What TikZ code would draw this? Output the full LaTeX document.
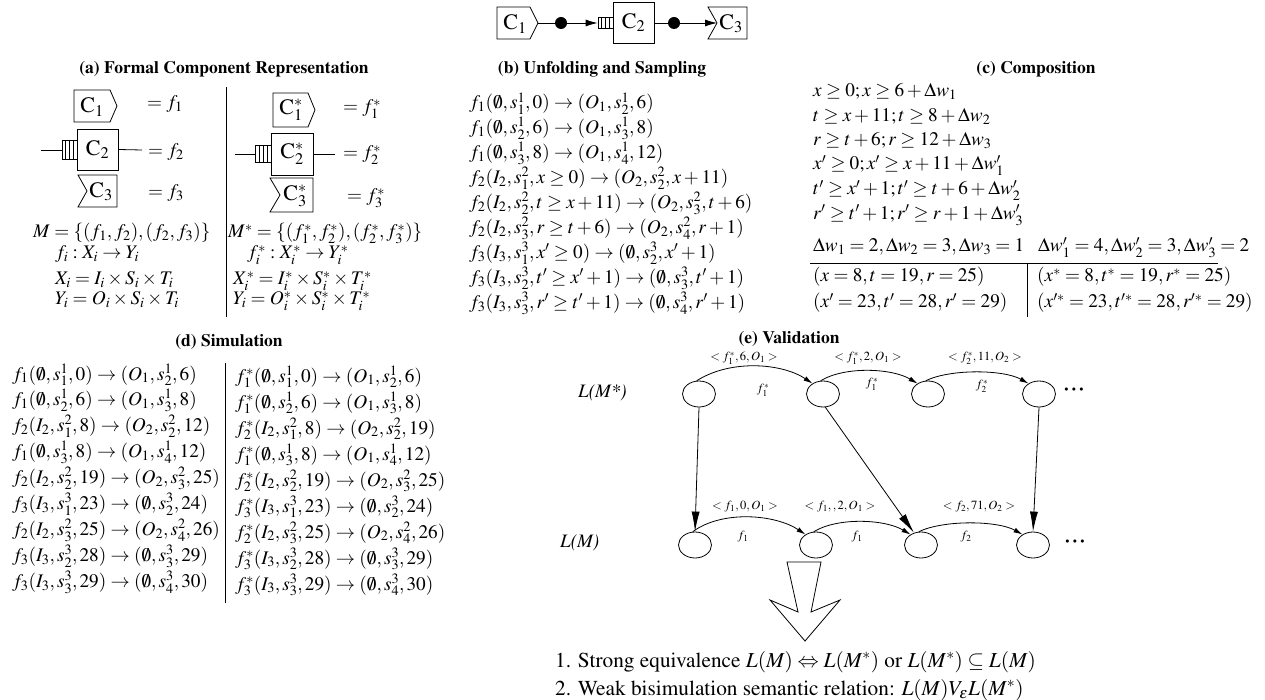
\documentclass[tikz,border=0pt]{standalone}
\usepackage[T1]{fontenc}
\usepackage{mathptmx}
\usetikzlibrary{arrows.meta,shapes.geometric,calc}
\newcommand{\mainfs}{\fontsize{19.25}{23}\selectfont}
\newcommand{\ttlfs}{\fontsize{17.5}{21}\selectfont}
\newcommand{\smallfs}{\fontsize{12.5}{14}\selectfont}
\newcommand{\clabfs}{\fontsize{22}{24}\selectfont}
\newcommand{\concfs}{\fontsize{21.3}{26}\selectfont}
\newcommand{\etc}{\textbullet\kern3.3pt\textbullet\kern3.3pt\textbullet}
\tikzset{
  ln/.style={line width=0.8pt},
  comp/.style={draw, line width=0.8pt, line join=miter},
  cbox/.style={draw, line width=0.8pt, minimum width=41pt, minimum height=41pt, inner sep=0pt, font=\clabfs},
  clab/.style={inner sep=0pt, font=\clabfs},
  blob/.style={circle, fill, inner sep=0pt, minimum size=12pt},
  queue/.style={draw, line width=0.8pt, inner sep=0pt, path picture={
      \foreach \f in {0.25,0.5,0.75}
        \draw[line width=0.8pt] ($(path picture bounding box.north west)!\f!(path picture bounding box.north east)$) -- ($(path picture bounding box.south west)!\f!(path picture bounding box.south east)$);
    }},
  mtxt/.style={anchor=base west, inner sep=0pt, font=\mainfs},
  ttl/.style={anchor=base, inner sep=0pt, font=\ttlfs\bfseries},
  st/.style={ellipse, draw, line width=0.8pt, minimum width=33pt, minimum height=26pt, inner sep=0pt},
  lbl/.style={inner sep=0pt, font=\smallfs},
  dotsl/.style={inner sep=0pt, font=\fontsize{12}{12}\selectfont},
  runlbl/.style={anchor=west, inner sep=0pt, font=\fontsize{19}{21}\selectfont\itshape},
  arcarrow/.style={line width=0.8pt, -{Latex[length=9pt,width=5pt]}},
  midarrow/.style={line width=0.8pt, -{Latex[length=12pt,width=7pt]}},
  bigarrow/.style={line width=0.8pt, -{Latex[length=20pt,width=8pt]}},
  rule/.style={line width=0.8pt},
}
\begin{document}
\begin{tikzpicture}[x=1pt,y=-1pt]
\useasboundingbox (0,0) rectangle (1265,700);

% ---------- pipeline C1 -> C2 -> C3 ----------
\draw[comp] (497,7) -- (530,7) -- (538,23) -- (530,39) -- (497,39) -- cycle;
\node[clab] (tc1) at (515,24) {C$_1$};
\coordinate (tc1out) at (538,23);
\node[blob] (td1) at (561,23) {};
\node[queue, minimum width=15pt, minimum height=11pt] (tq) at (605.5,23) {};
\node[cbox] (tc2) at (633.5,22.5) {C$_2$};
\node[blob] (td2) at (674,23) {};
\draw[comp] (708,7) -- (747,7) -- (747,39) -- (708,39) -- (717,23) -- cycle;
\coordinate (tc3in) at (717,23);
\node[clab] (tc3) at (731,24) {C$_3$};
\draw[ln] (tc1out) -- (td1);
\draw[midarrow] (td1) -- (tq.west);
\draw[ln] (tc2.east |- td2) -- (td2);
\draw[midarrow] (td2) -- (tc3in);

% ---------- (a) ----------
\node[ttl] (ta) at (224,74) {(a) Formal Component Representation};
\draw[rule] (226,87) -- (226,317);
% left column
\draw[comp] (74,90) -- (110,90) -- (117,106) -- (110,122) -- (74,122) -- cycle;
\node[clab] (ac1) at (92,107) {C$_1$};
\node[mtxt] (af1) at (147,109) {$= f_1$};
\coordinate (ain2) at (41,150);
\node[queue, minimum width=15pt, minimum height=19pt] (aq2) at (69.5,150) {};
\node[cbox] (ac2) at (97.5,149.5) {C$_2$};
\coordinate (aout2) at (142,150);
\draw[ln] (ain2) -- (aq2.west);
\draw[ln] (ac2.east) -- (aout2);
\node[mtxt] (af2) at (148,157) {$= f_2$};
\draw[comp] (78,175) -- (117,175) -- (117,207) -- (78,207) -- (87,191) -- cycle;
\node[clab] (ac3) at (101,192) {C$_3$};
\node[mtxt] (af3) at (148,198) {$= f_3$};
\node[mtxt] (am) at (33,238) {$M = \{(f_1,f_2),(f_2,f_3)\}$};
\node[mtxt] (amap) at (55,259) {$f_i : X_i \rightarrow Y_i$};
\node[mtxt] (ax) at (55,285) {$X_i = I_i \times S_i \times T_i$};
\node[mtxt] (ay) at (55,305) {$Y_i = O_i \times S_i \times T_i$};
% right column
\draw[comp] (273,93) -- (308,93) -- (315,110) -- (308,127) -- (273,127) -- cycle;
\node[clab] (asc1) at (291,110) {C$_1^*$};
\node[mtxt] (asf1) at (343,113) {$= f_1^*$};
\coordinate (asin2) at (235,154);
\node[queue, minimum width=16pt, minimum height=17pt] (asq2) at (263,154) {};
\node[cbox, minimum width=42pt, minimum height=42pt] (asc2) at (292,154) {C$_2^*$};
\coordinate (asout2) at (335,154);
\draw[ln] (asin2) -- (asq2.west);
\draw[ln] (asc2.east) -- (asout2);
\node[mtxt] (asf2) at (343,159) {$= f_2^*$};
\draw[comp] (270,178) -- (313,178) -- (313,212) -- (270,212) -- (280,195) -- cycle;
\node[clab] (asc3) at (295,196) {C$_3^*$};
\node[mtxt] (asf3) at (347,202) {$= f_3^*$};
\node[mtxt] (asm) at (228,238) {$M^* = \{(f_1^*,f_2^*),(f_2^*,f_3^*)\}$};
\node[mtxt] (asmap) at (247,259) {$f_i^* : X_i^* \rightarrow Y_i^*$};
\node[mtxt] (asx) at (233,285) {$X_i^* = I_i^* \times S_i^* \times T_i^*$};
\node[mtxt] (asy) at (233,305) {$Y_i = O_i^* \times S_i^* \times T_i^*$};

% ---------- (b) ----------
\node[ttl] (tb) at (602,74) {(b) Unfolding and Sampling};
\foreach \r [count=\i from 0] in {
  {$f_1(\emptyset,s^1_1,0)\rightarrow(O_1,s^1_2,6)$},
  {$f_1(\emptyset,s^1_2,6)\rightarrow(O_1,s^1_3,8)$},
  {$f_1(\emptyset,s^1_3,8)\rightarrow(O_1,s^1_4,12)$},
  {$f_2(I_2,s^2_1,x\geq 0)\rightarrow(O_2,s^2_2,x+11)$},
  {$f_2(I_2,s^2_2,t\geq x+11)\rightarrow(O_2,s^2_3,t+6)$},
  {$f_2(I_2,s^2_3,r\geq t+6)\rightarrow(O_2,s^2_4,r+1)$},
  {$f_3(I_3,s^3_1,x'\geq 0)\rightarrow(\emptyset,s^3_2,x'+1)$},
  {$f_3(I_3,s^3_2,t'\geq x'+1)\rightarrow(\emptyset,s^3_3,t'+1)$},
  {$f_3(I_3,s^3_3,r'\geq t'+1)\rightarrow(\emptyset,s^3_4,r'+1)$}}
  \node[mtxt] (b\i) at (469,{109+24.9*\i}) {\r};

% ---------- (c) ----------
\node[ttl] (tcc) at (1036,74) {(c) Composition};
\node[mtxt] (c1) at (813,97) {$x\geq 0; x\geq 6+\Delta w_1$};
\node[mtxt] (c2) at (813,121.5) {$t\geq x+11; t\geq 8+\Delta w_2$};
\node[mtxt] (c3) at (813,146) {$r\geq t+6; r\geq 12+\Delta w_3$};
\node[mtxt] (c4) at (813,170) {$x'\geq 0; x'\geq x+11+\Delta w'_1$};
\node[mtxt] (c5) at (813,195) {$t'\geq x'+1; t'\geq t+6+\Delta w'_2$};
\node[mtxt] (c6) at (813,219.5) {$r'\geq t'+1; r'\geq r+1+\Delta w'_3$};
\node[mtxt] (c7a) at (813,252) {$\Delta w_1=2,\Delta w_2=3,\Delta w_3=1$};
\node[mtxt] (c7b) at (1038,252) {$\Delta w'_1=4,\Delta w'_2=3,\Delta w'_3=2$};
\draw[rule] (810,263) -- (1218,263);
\draw[rule] (1027,263) -- (1027,317);
\node[mtxt] (c8a) at (813,282) {$(x=8,t=19,r=25)$};
\node[mtxt] (c8b) at (1037,282) {$(x^*=8,t^*=19,r^*=25)$};
\node[mtxt] (c9a) at (813,308) {$(x'=23,t'=28,r'=29)$};
\node[mtxt] (c9b) at (1037,308) {$(x'^*=23,t'^*=28,r'^*=29)$};

% ---------- (d) ----------
\node[ttl] (td) at (229,346) {(d) Simulation};
\draw[rule] (225,363) -- (225,603);
\foreach \r [count=\i from 0] in {
  {$f_1(\emptyset,s^1_1,0)\rightarrow(O_1,s^1_2,6)$},
  {$f_1(\emptyset,s^1_2,6)\rightarrow(O_1,s^1_3,8)$},
  {$f_2(I_2,s^2_1,8)\rightarrow(O_2,s^2_2,12)$},
  {$f_1(\emptyset,s^1_3,8)\rightarrow(O_1,s^1_4,12)$},
  {$f_2(I_2,s^2_2,19)\rightarrow(O_2,s^2_3,25)$},
  {$f_3(I_3,s^3_1,23)\rightarrow(\emptyset,s^3_2,24)$},
  {$f_2(I_2,s^2_3,25)\rightarrow(O_2,s^2_4,26)$},
  {$f_3(I_3,s^3_2,28)\rightarrow(\emptyset,s^3_3,29)$},
  {$f_3(I_3,s^3_3,29)\rightarrow(\emptyset,s^3_4,30)$}}
  \node[mtxt] (dl\i) at (12,{380+25.9*\i}) {\r};
\foreach \r [count=\i from 0] in {
  {$f_1^*(\emptyset,s^1_1,0)\rightarrow(O_1,s^1_2,6)$},
  {$f_1^*(\emptyset,s^1_2,6)\rightarrow(O_1,s^1_3,8)$},
  {$f_2^*(I_2,s^2_1,8)\rightarrow(O_2,s^2_2,19)$},
  {$f_1^*(\emptyset,s^1_3,8)\rightarrow(O_1,s^1_4,12)$},
  {$f_2^*(I_2,s^2_2,19)\rightarrow(O_2,s^2_3,25)$},
  {$f_3^*(I_3,s^3_1,23)\rightarrow(\emptyset,s^3_2,24)$},
  {$f_2^*(I_2,s^2_3,25)\rightarrow(O_2,s^2_4,26)$},
  {$f_3^*(I_3,s^3_2,28)\rightarrow(\emptyset,s^3_3,29)$},
  {$f_3^*(I_3,s^3_3,29)\rightarrow(\emptyset,s^3_4,30)$}}
  \node[mtxt] (dr\i) at (235,{382+26*\i}) {\r};

% ---------- (e) ----------
\node[ttl] (te) at (789,343) {(e) Validation};
\node[runlbl] (lms) at (578,393) {L(M*)};
\node[runlbl] (lm) at (560,543) {L(M)};
\node[st] (e1) at (699,394) {};
\node[st] (e2) at (823,394) {};
\node[st] (e3) at (928,394) {};
\node[st] (e4) at (1039,394) {};
\node[dotsl] (edots) at (1074,391) {\etc};
\node[st] (g1) at (695,545) {};
\node[st] (g2) at (816,545) {};
\node[st] (g3) at (921,545) {};
\node[st] (g4) at (1033,545) {};
\node[dotsl] (gdots) at (1075,543) {\etc};
% upper transitions
\draw[arcarrow] (e1.100) .. controls +(35,-22) and +(-30,-20) .. (e2.135);
\draw[arcarrow] (e2.100) .. controls +(25,-15) and +(-25,-15) .. (e3.135);
\draw[arcarrow] (e3.100) .. controls +(25,-12) and +(-25,-14) .. (e4.135);
\node[lbl] (le1) at (744,358) {$<f_1^*,6,O_1>$};
\node[lbl] (le2) at (868,358) {$<f_1^*,2,O_1>$};
\node[lbl] (le3) at (985,358) {$<f_2^*,11,O_2>$};
\node[lbl] (me1) at (763,390) {$f_1^*$};
\node[lbl] (me2) at (872,384) {$f_1^*$};
\node[lbl] (me3) at (982,386) {$f_2^*$};
% lower transitions
\draw[arcarrow] (g1.100) .. controls +(30,-22) and +(-30,-20) .. (g2.135);
\draw[arcarrow] (g2.100) .. controls +(25,-15) and +(-25,-15) .. (g3.135);
\draw[arcarrow] (g3.100) .. controls +(25,-12) and +(-25,-14) .. (g4.135);
\node[lbl] (lg1) at (745,507) {$<f_1,0,O_1>$};
\node[lbl] (lg2) at (840,507) {$<f_1,,2,O_1>$};
\node[lbl] (lg3) at (979,507) {$<f_2,71,O_2>$};
\node[lbl] (mg1) at (743,537) {$f_1$};
\node[lbl] (mg2) at (857,537) {$f_1$};
\node[lbl] (mg3) at (966,537) {$f_2$};
% correspondence between the two runs
\draw[bigarrow] (e1.south) -- (g1.north);
\draw[bigarrow] (e2.280) -- (g3.120);
\draw[bigarrow] (e4.south) -- (g4.north);
% conclusion arrow
\draw[line width=0.8pt, line join=miter] (787,562) -- (821,562) -- (811,612) -- (840,600) -- (805,641) -- (770,600) -- (798,612) -- cycle;
\node[anchor=base west, inner sep=0pt, font=\concfs] (r1) at (555,667) {1. Strong equivalence $L(M)\Leftrightarrow L(M^*)$ or $L(M^*)\subseteq L(M)$};
\node[anchor=base west, inner sep=0pt, font=\concfs] (r2) at (555,695) {2. Weak bisimulation semantic relation: $L(M)V_{\varepsilon}L(M^*)$};
\end{tikzpicture}
\end{document}
